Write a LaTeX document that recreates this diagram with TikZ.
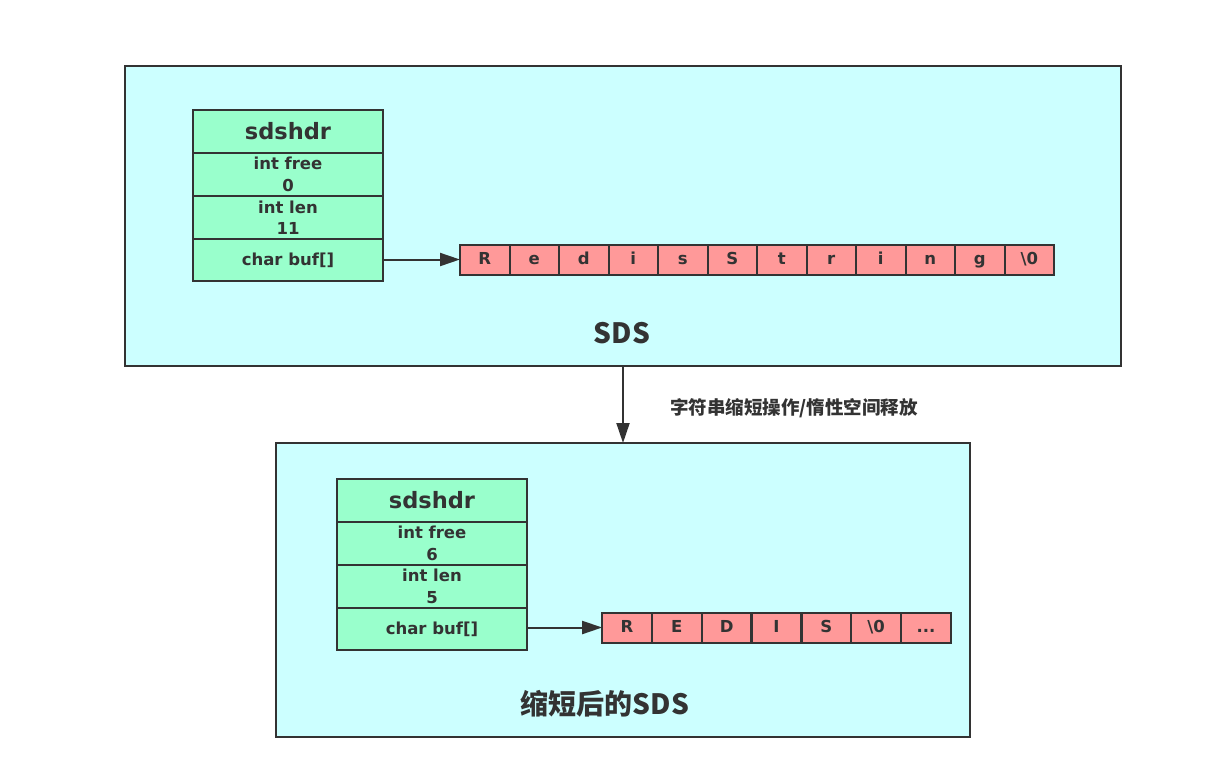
\documentclass[tikz,border=0pt]{standalone}
\usepackage{fontspec}
\setmainfont{DejaVu Sans}
\newfontfamily\cjk{Noto Sans CJK SC}
\usetikzlibrary{arrows.meta}
\definecolor{framefill}{HTML}{CCFFFF}
\definecolor{hdrfill}{HTML}{99FFCC}
\definecolor{cellfill}{HTML}{FF9999}
\definecolor{ink}{HTML}{333333}
\begin{document}
\begin{tikzpicture}[x=1pt,y=-1pt,
  every node/.style={outer sep=0pt},
  frame/.style={draw=ink, line width=2pt, fill=framefill, inner sep=0pt},
  field/.style={draw=ink, line width=2pt, fill=hdrfill, minimum width=190pt,
    minimum height=43pt, inner sep=0pt, align=center, text=ink,
    font=\bfseries\fontsize{16.5}{21.5}\selectfont},
  title/.style={field, font=\bfseries\fontsize{22.5}{26}\selectfont},
  cell/.style={draw=ink, line width=2pt, fill=cellfill, minimum width=49.5pt,
    minimum height=30pt, inner sep=0pt, text height=12pt, text depth=3pt,
    text=ink, font=\bfseries\fontsize{16.5}{19}\selectfont},
  caption/.style={text=ink, font=\cjk\bfseries\fontsize{28}{32}\selectfont},
  link/.style={draw=ink, line width=2pt, -{Triangle[length=20pt,width=13pt]}},
]
\useasboundingbox (0,0) rectangle (1206,772);

% original string
\node[frame, minimum width=996pt, minimum height=300pt] (sds) at (623,216) {};
\node[title] (h1) at (288,131.5) {sdshdr};
\node[field] (free1) at (288,174.5) {int free\\0};
\node[field] (len1) at (288,217.5) {int len\\11};
\node[field, minimum height=42pt] (buf1) at (288,260) {char buf[]};
\foreach \ch [count=\i] in {R,e,d,i,s,S,t,r,i,n,g,\textbackslash 0}
  \node[cell] (a\i) at ({460+49.5*(\i-0.5)},259.5) {\ch};
\draw[link] (buf1.east |- a1.west) -- (a1.west);
\node[caption] (cap1) at (622,333) {SDS};

% shortening step
\node[frame, minimum width=694pt, minimum height=294pt] (short) at (623,590) {};
\draw[link] (sds.south) -- (short.north);
\node[text=ink, font=\cjk\bfseries\fontsize{18.5}{21}\selectfont] (op) at (794,408)
  {字符串缩短操作/惰性空间释放};

% shortened string
\node[title] (h2) at (432,500.5) {sdshdr};
\node[field] (free2) at (432,543.5) {int free\\6};
\node[field] (len2) at (432,586.5) {int len\\5};
\node[field, minimum height=42pt] (buf2) at (432,629) {char buf[]};
\foreach \ch [count=\i] in {R,E,D,I,S,\textbackslash 0}
  \node[cell] (b\i) at ({602+49.85*(\i-0.5)},627.5) {\ch};
\node[cell] (b7) at ({602+49.85*6.5},627.5) {.{}.{}.};
\draw[link] (buf2.east |- b1.west) -- (b1.west);
\node[caption] (cap2) at (605,704) {缩短后的SDS};
\end{tikzpicture}
\end{document}
